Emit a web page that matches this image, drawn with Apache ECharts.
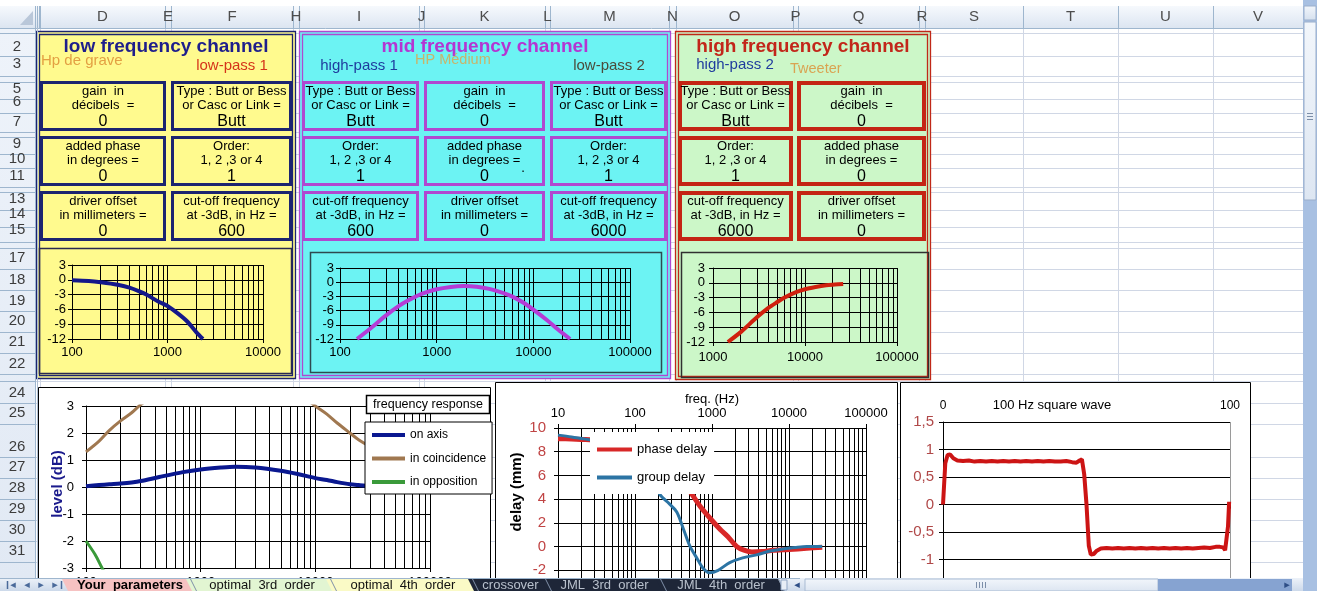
<!DOCTYPE html>
<html><head><meta charset="utf-8">
<script src="https://cdn.jsdelivr.net/npm/echarts@6/dist/echarts.min.js"></script>
<style>html,body{margin:0;padding:0;background:#fff;overflow:hidden}#c{width:1317px;height:591px}</style>
</head><body><div id="c"></div>
<script>
// ---------------- DATA ----------------
// low frequency channel (low-pass 1, 600 Hz)
const lowFreq  = [100, 150, 200, 300, 400, 500, 600, 800, 1000, 1300, 1600, 2000, 2350];
const lowLevel = [-0.1, -0.25, -0.5, -1.0, -1.6, -2.3, -3.0, -4.4, -5.3, -6.9, -8.4, -10.6, -12.0];
// mid frequency channel (600 Hz – 6000 Hz)
const midFreq  = [150, 200, 300, 400, 500, 700, 1000, 1400, 1900, 2600, 3500, 5000, 6000, 8000, 10000, 14000, 18000, 24000];
const midLevel = [-12.0, -10.0, -7.0, -5.1, -3.9, -2.45, -1.5, -1.0, -0.8, -0.95, -1.4, -2.35, -3.0, -4.4, -5.8, -8.1, -10.0, -12.0];
// high frequency channel (high-pass 2, 6000 Hz)
const highFreq  = [1450, 2000, 3000, 4000, 5000, 6000, 8000, 10000, 13000, 17000, 21000, 26000];
const highLevel = [-12.0, -10.0, -7.0, -5.1, -3.9, -3.0, -1.9, -1.3, -0.85, -0.5, -0.35, -0.22];
// frequency response
const respFreq    = [100, 130, 160, 200, 250, 300, 435, 700, 1000, 1500, 2000, 3000, 5000, 7000, 10000, 12600, 15500, 20000, 24000, 30000, 40000];
const onAxis      = [0.03, 0.07, 0.1, 0.13, 0.17, 0.22, 0.37, 0.55, 0.65, 0.72, 0.75, 0.72, 0.6, 0.48, 0.33, 0.26, 0.18, 0.1, 0.07, 0.04, 0.02];
const coincidence = [1.3, 1.7, 2.1, 2.45, 2.75, 3.05, 3.5, 3.9, 4.1, 4.3, 4.3, 4.2, 3.9, 3.5, 3.0, 2.7, 2.37, 2.0, 1.74, 1.5, 1.25];
const oppFreq     = [100, 120, 138, 160];
const opposition  = [-2.0, -2.5, -3.0, -3.5];
// delays
const phaseFreq  = [10, 15, 20, 26, 40, 70, 100, 150, 200, 300, 400, 550, 700, 1000, 1300, 1600, 2100, 2600, 3300, 4500, 6200, 10000, 17000, 27000];
const phaseDelay = [9.1, 9.07, 9.04, 9.0, 8.95, 8.8, 8.5, 8.1, 7.6, 6.6, 5.6, 4.4, 3.4, 2.2, 1.4, 0.85, 0.0, -0.3, -0.45, -0.42, -0.32, -0.25, -0.15, -0.05];
const groupFreq  = [10, 15, 20, 26, 40, 70, 100, 150, 210, 280, 350, 430, 520, 640, 760, 930, 1200, 1700, 2500, 3800, 5500, 8300, 12000, 17000, 27000];
const groupDelay = [9.4, 9.25, 9.12, 9.0, 8.8, 8.3, 7.8, 6.5, 4.4, 3.6, 2.9, 1.4, 0.0, -1.0, -1.8, -2.2, -2.0, -1.35, -0.95, -0.7, -0.4, -0.2, -0.08, 0.0, 0.0];
// 100 Hz square wave
const sqTime  = [0, 0.8, 1.6, 2.5, 3.6, 5,
  7, 9, 11, 13, 15, 17, 19, 21, 23, 25, 27, 29, 31, 33, 35, 37, 39, 41, 43, 45,
  46.5, 47.6, 48.4, 49.2, 50, 50.8, 51.5, 52.5, 53.6, 55,
  57, 59, 61, 63, 65, 67, 69, 71, 73, 75, 77, 79, 81, 83, 85, 87, 89, 91, 93, 95,
  96.5, 97.6, 98.3, 98.9, 99.3, 99.7];
const sqLevel = [0, 0.75, 0.9, 0.91, 0.84, 0.8,
  0.79, 0.8, 0.78, 0.79, 0.78, 0.79, 0.78, 0.79, 0.78, 0.79, 0.78, 0.79, 0.78, 0.79, 0.78, 0.79, 0.78, 0.78, 0.79, 0.77,
  0.76, 0.8, 0.82, 0.55, 0, -0.75, -0.91, -0.9, -0.84, -0.8,
  -0.79, -0.8, -0.79, -0.8, -0.79, -0.8, -0.79, -0.8, -0.79, -0.8, -0.79, -0.8, -0.79, -0.8, -0.79, -0.8, -0.79, -0.78, -0.79, -0.77,
  -0.77, -0.78, -0.83, -0.8, -0.4, 0.05];
// sheet labels
const colLetters = ['D','E','F','H','I','J','K','L','M','N','O','P','Q','R','S','T','U','V'];
const rowNumbers = ['2','3','5','6','7','9','10','11','13','14','15','17','18','19','20','21','22','24','25','26','27','28','29','30','31'];
const tabNames = ['Your  parameters','optimal  3rd  order','optimal  4th  order','crossover','JML  3rd  order','JML  4th  order'];
const boxGain   = ['gain  in', 'décibels  =', '0'];
const boxType   = ['Type : Butt or Bess', 'or Casc or Link =', 'Butt'];
const boxPhase  = ['added phase', 'in degrees =', '0'];
const boxOrder  = ['Order:', '1, 2 ,3 or 4', '1'];
const boxOffset = ['driver offset', 'in millimeters =', '0'];
const boxCutLow  = ['cut-off frequency', 'at -3dB, in Hz =', '600'];
const boxCutHigh = ['cut-off frequency', 'at -3dB, in Hz =', '6000'];

// ---------------- LAYOUT ----------------
const FF = '"Liberation Sans", Arial, sans-serif';
const els = [];
function R(x,y,w,h,fill,stroke,lw,z){ els.push({type:'rect', z:z, silent:true, shape:{x:x,y:y,width:w,height:h}, style:{fill:fill||'none', stroke:stroke||'none', lineWidth:lw||0}}); }
function L(x1,y1,x2,y2,c,w,z){ els.push({type:'line', z:z, silent:true, shape:{x1:x1,y1:y1,x2:x2,y2:y2}, style:{stroke:c, lineWidth:w||1}}); }
function P(pts,fill,z){ els.push({type:'polygon', z:z, silent:true, shape:{points:pts}, style:{fill:fill}}); }
function T(x,y,s,font,color,align,z,rot){ els.push({type:'text', z:z||50, x:x, y:y, rotation:rot||0, silent:true,
  style:{text:s, font:font, fill:color, textAlign:align||'center', align:align||'center', textVerticalAlign:'middle', verticalAlign:'middle'}}); }
function grad(c1,c2){ return {type:'linear', x:0, y:0, x2:0, y2:1, colorStops:[{offset:0,color:c1},{offset:1,color:c2}]}; }

const colBounds = [40,165,171,293,299,419,424,545,550,669,676,793,798,919,925,1023,1118,1213,1303];
const rowBounds = [33,56,76,82,99,113,132,137,154,168,187,192,210,227,242,248,269,290,311,332,353,374,381,403,424,457,478,499,520,541,562];
const rowLabelY = [47,64,89,102,122,144,159,176,199,214,230,258,280,301,321,342,364,393,413,447,467,488,509,530,551];

// sheet grid
rowBounds.forEach(y => L(35, y+0.5, 1303, y+0.5, '#D0D7E5', 1, -20));
colBounds.forEach(x => L(x+0.5, 28, x+0.5, 578, '#D0D7E5', 1, -20));
// column header
R(0, 0, 1303, 6, '#FFFFFF', null, 0, 60);
R(0, 6, 1303, 22, grad('#F6F9FD','#DCE5F1'), null, 0, 60);
L(0, 28.5, 1303, 28.5, '#9EB6CE', 1, 61);
[35,37,39].concat(colBounds).forEach(x => L(x+0.5, 6, x+0.5, 28, '#9EB6CE', 1, 61));
P([[20,25],[33,25],[33,11]], '#B9C7D9', 62);
for (let i=0;i<colLetters.length;i++){
  T((colBounds[i]+colBounds[i+1])/2, 17, colLetters[i], '15px '+FF, '#4D4D4D', 'center', 62);
}
// row header
R(0, 28, 35, 550, grad('#EEF3FA','#E1E9F4'), null, 0, 60);
L(35.5, 28, 35.5, 578, '#9EB6CE', 1, 61);
L(37.5, 28, 37.5, 578, '#B0C0D4', 1, 61);
rowBounds.forEach(y => L(0, y+0.5, 35, y+0.5, '#9EB6CE', 1, 61));
rowNumbers.forEach((n,i) => T(17, rowLabelY[i], n, '15px '+FF, '#3C3C3C', 'center', 62));

// channel panels
const panels = [
  {x:36, y:31, w:260, h:348, fill:'#FFFA8E', border:'#1C2470'},
  {x:299, y:31, w:372, h:348, fill:'#6CF3F3', border:'#B048D0'},
  {x:675, y:31, w:256, h:349, fill:'#CCF7C8', border:'#C02818'}
];
panels.forEach(p => {
  R(p.x, p.y, p.w, p.h, p.fill, null, 0, -10);
  R(p.x+0.5, p.y+0.5, p.w-1, p.h-1, 'none', p.border, 1.3, -9);
  R(p.x+3.5, p.y+3.5, p.w-7, p.h-7, 'none', p.border, 1.3, -9);
});
const rowsY = [[81,131],[136,186],[191,241]];
function boxes(cols, contents, border, lw){
  cols.forEach((c,ci) => {
    rowsY.forEach((r,ri) => {
      R(c[0]+lw/2, r[0]+lw/2, c[1]-c[0]-lw, r[1]-r[0]-lw, 'none', border, lw, -8);
      const lines = contents[ci][ri], cx = (c[0]+c[1])/2;
      T(cx, r[0]+10, lines[0], '13px '+FF, '#000');
      T(cx, r[0]+24, lines[1], '13px '+FF, '#000');
      T(cx, r[0]+41, lines[2], '16px '+FF, '#000');
    });
  });
}
boxes([[40,166],[171,292]], [[boxGain,boxPhase,boxOffset],[boxType,boxOrder,boxCutLow]], '#1C2470', 3);
boxes([[302,419],[424,545],[550,667]], [[boxType,boxOrder,boxCutLow],[boxGain,boxPhase,boxOffset],[boxType,boxOrder,boxCutHigh]], '#B048D0', 3);
boxes([[678,793],[797,926]], [[boxType,boxOrder,boxCutHigh],[boxGain,boxPhase,boxOffset]], '#C42414', 4);
T(523, 168, '.', '13px '+FF, '#000');
// titles
T(166, 47, 'low frequency channel', 'bold 19px '+FF, '#1E1E8C');
T(41, 61, 'Hp de grave', '15px '+FF, '#E3A043', 'left');
T(232, 66, 'low-pass 1', '15px '+FF, '#D5341A');
T(485, 47, 'mid frequency channel', 'bold 19px '+FF, '#B435D2');
T(359, 66, 'high-pass 1', '15px '+FF, '#1F3C9E');
T(415, 60, 'HP Médium', '14.5px '+FF, '#C9B46A', 'left');
T(609, 66, 'low-pass 2', '15px '+FF, '#4B4B3B');
T(803, 47, 'high frequency channel', 'bold 19px '+FF, '#C2261A');
T(735, 65, 'high-pass 2', '15px '+FF, '#1F3C9E');
T(790, 69, 'Tweeter', '14.5px '+FF, '#D9A452', 'left');
// small chart frames
R(39.5, 248.5, 252, 125, 'none', '#2A2A50', 1.5, -7);
R(310.5, 252.5, 351, 120, 'none', '#2E4A50', 1.5, -7);
R(681.5, 252.5, 247, 125, 'none', '#303030', 1.5, -7);
// bottom chart frames
R(38.5, 387.5, 452, 210, '#FFFFFF', '#000', 1, -6);
R(495.5, 382.5, 402, 210, '#FFFFFF', '#000', 1, -6);
R(900.5, 382.5, 350, 210, '#FFFFFF', '#000', 1, -6);
// chart texts
R(366.5, 395.5, 123, 18, '#FFFFFF', '#000', 1.5, 20);
T(428, 404.5, 'frequency response', '12.5px '+FF, '#000', 'center', 21);
T(58, 484, 'level (dB)', 'bold 15px '+FF, '#1A1A8C', 'center', 21, Math.PI/2);
T(517, 492, 'delay (mm)', 'bold 15px '+FF, '#000', 'center', 21, Math.PI/2);
T(1052, 405, '100 Hz square wave', '13px '+FF, '#000', 'center', 21);

// tab bar
R(0, 578, 1303, 13, grad('#EDF2F9','#CCD9EA'), null, 0, 100);
L(0, 578.5, 800, 578.5, '#9EB6CE', 1, 101);
['◂','◂','▸','▸'].forEach((a,i) => T(13+i*14, 585, a, '11px "DejaVu Sans"', '#4A6A9A', 'center', 102));
L(7.5, 581, 7.5, 589, '#4A6A9A', 1.5, 102); L(61.5, 581, 61.5, 589, '#4A6A9A', 1.5, 102);
const tabs = [
  {x0:66, x1:190, fill:'#F6C2C2', color:'#000', bold:true},
  {x0:190, x1:330, fill:'#E2F5D2', color:'#111'},
  {x0:330, x1:472, fill:'#FAFAC6', color:'#111'},
  {x0:472, x1:545, fill:'#1E2638', color:'#B8C0CC'},
  {x0:545, x1:660, fill:'#1E2638', color:'#B8C0CC'},
  {x0:660, x1:778, fill:'#1E2638', color:'#B8C0CC'}
];
tabs.forEach((t,i) => {
  P([[t.x0-4,579],[t.x1,579],[t.x1+6,591],[t.x0+2,591]], t.fill, 101);
  L(t.x1+0.5, 579, t.x1+6.5, 591, '#8090A8', 1, 102);
  T((t.x0+t.x1)/2+2, 585.5, tabNames[i], (t.bold?'bold ':'')+'13px '+FF, t.color, 'center', 103);
});
R(781, 580, 6, 10, '#E8EEF6', '#8FA5C4', 1, 102);
T(797, 585, '◂', '11px "DejaVu Sans"', '#2E4E86', 'center', 102);
R(805, 579, 353, 12, grad('#F2F6FB','#DCE5F1'), '#A9BBD3', 1, 101);
[976,979,982,985].forEach(x => L(x+0.5, 582, x+0.5, 588, '#7C8EA8', 1, 102));
R(1158, 579, 134, 12, '#86A3D1', null, 0, 101);
T(1287, 585, '▸', '11px "DejaVu Sans"', '#2E4E86', 'center', 102);
// vertical scrollbar
R(1303, 0, 14, 591, '#A8C0E2', null, 0, 100);
R(1304, 6, 12, 14, grad('#F2F6FB','#D5E0EE'), '#9AAECB', 1, 101);
R(1304, 22, 12, 178, grad('#F2F6FB','#DDE6F2'), '#9AAECB', 1, 101);
[113,116,119].forEach(y => L(1307, y+0.5, 1313, y+0.5, '#7C8EA8', 1, 102));

// ---------------- CHART HELPERS ----------------
const zip = (a,b) => a.map((v,i) => [v, b[i]]);
function logX(gi, min, max, pos, fs, margin, extra){
  return Object.assign({
    type:'log', logBase:10, gridIndex:gi, min:min, max:max, position:pos,
    axisLine:{show:true, onZero:false, lineStyle:{color:'#000', width:1}},
    axisTick:{show:true, length:4, lineStyle:{color:'#000'}},
    axisLabel:{color:'#000', fontSize:fs, margin:margin, fontFamily:FF, formatter: v => String(Math.round(v))},
    splitLine:{show:true, lineStyle:{color:'#000', width:1}},
    minorTick:{show:false, splitNumber:9},
    minorSplitLine:{show:true, lineStyle:{color:'#000', width:1}}
  }, extra||{});
}
function valY(gi, min, max, interval, fs, margin, color, fmt){
  return {
    type:'value', gridIndex:gi, min:min, max:max, interval:interval,
    axisLine:{show:true, onZero:false, lineStyle:{color:'#000', width:1}},
    axisTick:{show:true, length:4, lineStyle:{color:'#000'}},
    axisLabel:{color:color, fontSize:fs, margin:margin, fontFamily:FF, formatter: fmt || (v => String(v))},
    splitLine:{show:true, lineStyle:{color:'#000', width:1}}
  };
}
function line(name, gi, xs, ys, color, width, smooth){
  return {type:'line', name:name, xAxisIndex:gi, yAxisIndex:gi, data:zip(xs,ys), showSymbol:false, symbol:'none',
    smooth:smooth, clip:true, silent:true, lineStyle:{color:color, width:width}, itemStyle:{color:color}};
}
const noOB = {containLabel:false, outerBoundsMode:'none'};
const option = {
  animation:false,
  textStyle:{fontFamily:FF},
  graphic:{elements:els},
  grid:[
    Object.assign({left:72, top:265, width:191, height:74}, noOB),
    Object.assign({left:340, top:268, width:290, height:71}, noOB),
    Object.assign({left:713, top:268, width:184, height:74}, noOB),
    Object.assign({left:86, top:406, width:344, height:162}, noOB),
    Object.assign({left:558, top:428, width:308, height:166}, noOB),
    Object.assign({left:943, top:422, width:287, height:165}, noOB)
  ],
  xAxis:[
    logX(0, 100, 10000, 'bottom', 13, 7),
    logX(1, 100, 100000, 'bottom', 13, 7),
    logX(2, 1000, 100000, 'bottom', 13, 9),
    logX(3, 100, 100000, 'bottom', 13, 8),
    logX(4, 10, 100000, 'top', 13, 8, {name:'freq. (Hz)', nameLocation:'middle', nameGap:20,
      nameTextStyle:{color:'#000', fontSize:13, fontFamily:FF}}),
    {type:'value', gridIndex:5, min:0, max:100, interval:100, position:'top',
     axisLine:{show:false}, axisTick:{show:true, length:4, inside:true, lineStyle:{color:'#000'}},
     axisLabel:{color:'#000', fontSize:12, margin:10, fontFamily:FF},
     splitLine:{show:true, lineStyle:{color:'#9A9A9A', width:1}}}
  ],
  yAxis:[
    valY(0, -12, 3, 3, 13, 6, '#000'),
    valY(1, -12, 3, 3, 13, 6, '#000'),
    valY(2, -12, 3, 3, 13, 8, '#000'),
    valY(3, -3, 3, 1, 13, 12, '#000'),
    valY(4, -4, 10, 2, 15, 12, '#C04444'),
    valY(5, -1.5, 1.5, 0.5, 15, 9, '#B04848', v => String(v).replace('.', ','))
  ],
  legend:[
    {data:['on axis','in coincidence','in opposition'], left:365, top:422, orient:'vertical',
     backgroundColor:'#fff', borderColor:'#000', borderWidth:1, padding:[7,6,6,7], itemGap:11.5,
     shadowBlur:0, shadowColor:'rgba(0,0,0,0)', shadowOffsetX:0, shadowOffsetY:0,
     itemWidth:33, itemHeight:4, icon:'rect', textStyle:{fontSize:12, color:'#000', fontFamily:FF}, selectedMode:false},
    {data:['phase delay','group delay'], left:590, top:432, orient:'vertical',
     backgroundColor:'#fff', borderWidth:0, padding:[11,7,10,7], itemGap:15,
     shadowBlur:0, shadowColor:'rgba(0,0,0,0)', shadowOffsetX:0, shadowOffsetY:0,
     itemWidth:35, itemHeight:4, icon:'rect', textStyle:{fontSize:13, color:'#000', fontFamily:FF}, selectedMode:false}
  ],
  series:[
    line('low', 0, lowFreq, lowLevel, '#14188A', 4, 0.3),
    line('mid', 1, midFreq, midLevel, '#B53CD6', 4, 0.3),
    line('high', 2, highFreq, highLevel, '#D0200E', 4, 0.3),
    line('on axis', 3, respFreq, onAxis, '#0A1890', 4, 0.3),
    line('in coincidence', 3, respFreq, coincidence, '#A07850', 3, 0.3),
    line('in opposition', 3, oppFreq, opposition, '#3A9A3A', 3, 0.3),
    line('phase delay', 4, phaseFreq, phaseDelay, '#D82828', 5, 0.3),
    line('group delay', 4, groupFreq, groupDelay, '#2C74A4', 3, 0.3),
    line('square', 5, sqTime, sqLevel, '#CC1414', 4, false)
  ]
};
const chart = echarts.init(document.getElementById('c'), null, {renderer:'canvas'});
chart.setOption(option);
</script>
</body></html>
